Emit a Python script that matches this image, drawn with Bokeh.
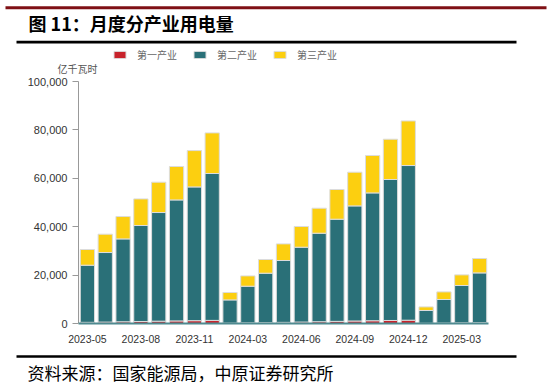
from bokeh.plotting import figure
from bokeh.models import (ColumnDataSource, Range1d, Legend, LegendItem, Label,
                          BoxAnnotation, FixedTicker, NumeralTickFormatter)
from bokeh.embed import file_html
from bokeh.resources import INLINE

# ---------------- data ----------------
months = ["2023-05", "2023-06", "2023-07", "2023-08", "2023-09", "2023-10", "2023-11", "2023-12",
          "2024-02", "2024-03", "2024-04", "2024-05", "2024-06", "2024-07", "2024-08", "2024-09",
          "2024-10", "2024-11", "2024-12", "2025-01", "2025-02", "2025-03", "2025-04"]
primary = [480, 580, 700, 830, 960, 1070, 1170, 1280,
           180, 280, 360, 470, 600, 730, 880, 1030, 1140, 1250, 1360,
           100, 200, 300, 390]
secondary = [23610, 28750, 34260, 39660, 44900, 50000, 55270, 60700,
             9570, 15130, 20420, 25560, 30930, 36580, 42220, 47570, 52830, 58250, 63920,
             5270, 9720, 15400, 20520]
tertiary = [6490, 7570, 9240, 11000, 12530, 13800, 15010, 16780,
            3060, 4260, 5660, 6870, 8550, 10330, 12270, 13920, 15450, 16650, 18420,
            1490, 3140, 4390, 5950]
series_names = ["第一产业", "第二产业", "第三产业"]
shown_ticks = [0, 3, 6, 9, 12, 15, 18, 21]
y_ticks = [0, 20000, 40000, 60000, 80000, 100000]
y_max = 100000

colors = ["#C8232C", "#2A7078", "#FCCF10"]

# ---------------- layout (canvas pixels) ----------------
W, H = 551, 388
AX_L, AX_R, AX_T, AX_B = 78, 488, 81, 323   # plotting area of the reference

n = len(months)
ux = (AX_R - AX_L) / n            # px per category
uy = y_max / (AX_B - AX_T)        # value per px
x0 = -0.5 - AX_L / ux
x1 = n - 0.5 + (W - AX_R) / ux
y0 = -(H - AX_B) * uy
y1 = y_max + AX_T * uy


def X(cx):
    return x0 + cx / ux


def Y(cy):
    return (AX_B - cy) * uy


src = ColumnDataSource(dict(x=list(range(n)), p1=primary, p2=secondary, p3=tertiary))

p = figure(width=W, height=H, output_backend="svg", toolbar_location=None, title=None,
           x_range=Range1d(x0, x1), y_range=Range1d(y0, y1),
           min_border=0, min_border_left=0, min_border_right=0,
           min_border_top=0, min_border_bottom=0)
p.outline_line_color = None
p.xgrid.grid_line_color = None
p.ygrid.grid_line_color = None
p.background_fill_color = "white"
p.border_fill_color = "white"

rs = p.vbar_stack(["p1", "p2", "p3"], x="x", width=0.8, source=src, color=colors,
                  line_color="#dcdcdc", line_width=1)
for r, c in zip(rs, colors):
    r.glyph.fill_color = c

# axis lines drawn over the value extent only
p.segment(x0=[-0.5], y0=[0], x1=[-0.5], y1=[y_max], line_color="#999999", line_width=1)
p.segment(x0=[-0.5], y0=[0], x1=[n - 0.5], y1=[0], line_color="#4F8A90", line_width=2)

# x axis
xa = p.xaxis[0]
xa.fixed_location = 0
xa.ticker = FixedTicker(ticks=shown_ticks)
xa.major_label_overrides = {i: months[i] for i in shown_ticks}
xa.axis_line_color = None
xa.major_tick_line_color = None
xa.minor_tick_line_color = None
xa.major_tick_out = 0
xa.major_tick_in = 0
xa.major_label_standoff = 11
xa.major_label_text_font = "Liberation Sans"
xa.major_label_text_font_size = "10.5px"
xa.major_label_text_color = "#333333"

# y axis
ya = p.yaxis[0]
ya.fixed_location = -0.5
ya.ticker = FixedTicker(ticks=y_ticks)
ya.formatter = NumeralTickFormatter(format="0,0")
ya.axis_line_color = None
ya.major_tick_out = 6
ya.major_tick_in = 0
ya.minor_tick_line_color = None
ya.major_tick_line_color = "#999999"
ya.major_label_standoff = 5
ya.major_label_text_font = "Liberation Sans"
ya.major_label_text_font_size = "11px"
ya.major_label_text_color = "#333333"

# legend
legend = Legend(items=[LegendItem(label=nm, renderers=[r]) for nm, r in zip(series_names, rs)],
                orientation="horizontal", location=(112, H - 61.5),
                glyph_width=15, glyph_height=9, label_height=9,
                label_text_font="Noto Sans CJK SC", label_text_font_size="10px",
                label_text_color="#666666", label_standoff=10, spacing=15,
                padding=0, margin=0, border_line_color=None, background_fill_alpha=0)
p.add_layout(legend, "center")

# decorations
def band(l, r, t, b, color):
    return BoxAnnotation(left=X(l), right=X(r), top=Y(t), bottom=Y(b),
                         fill_color=color, fill_alpha=1, line_color=None)

p.add_layout(band(5, 546, 5.8, 8.8, "#7F1015"))
p.add_layout(band(16, 516, 40.3, 43, "#000000"))
p.add_layout(band(16, 516, 354.8, 357.3, "#000000"))

p.add_layout(Label(x=X(28), y=Y(22), text="图 11：月度分产业用电量",
                   text_font="Noto Sans CJK SC", text_font_size="18px",
                   text_font_style="bold", text_color="#000000",
                   text_baseline="middle", text_align="left"))
p.add_layout(Label(x=X(57), y=Y(68), text="亿千瓦时", text_font="Noto Sans CJK SC",
                   text_font_size="10px", text_color="#555555",
                   text_baseline="middle", text_align="left"))
p.add_layout(Label(x=X(27), y=Y(372), text="资料来源：国家能源局，中原证券研究所",
                   text_font="Noto Sans CJK SC", text_font_size="17px",
                   text_color="#000000", text_baseline="middle", text_align="left"))

open("out.html", "w").write(file_html(p, INLINE))
